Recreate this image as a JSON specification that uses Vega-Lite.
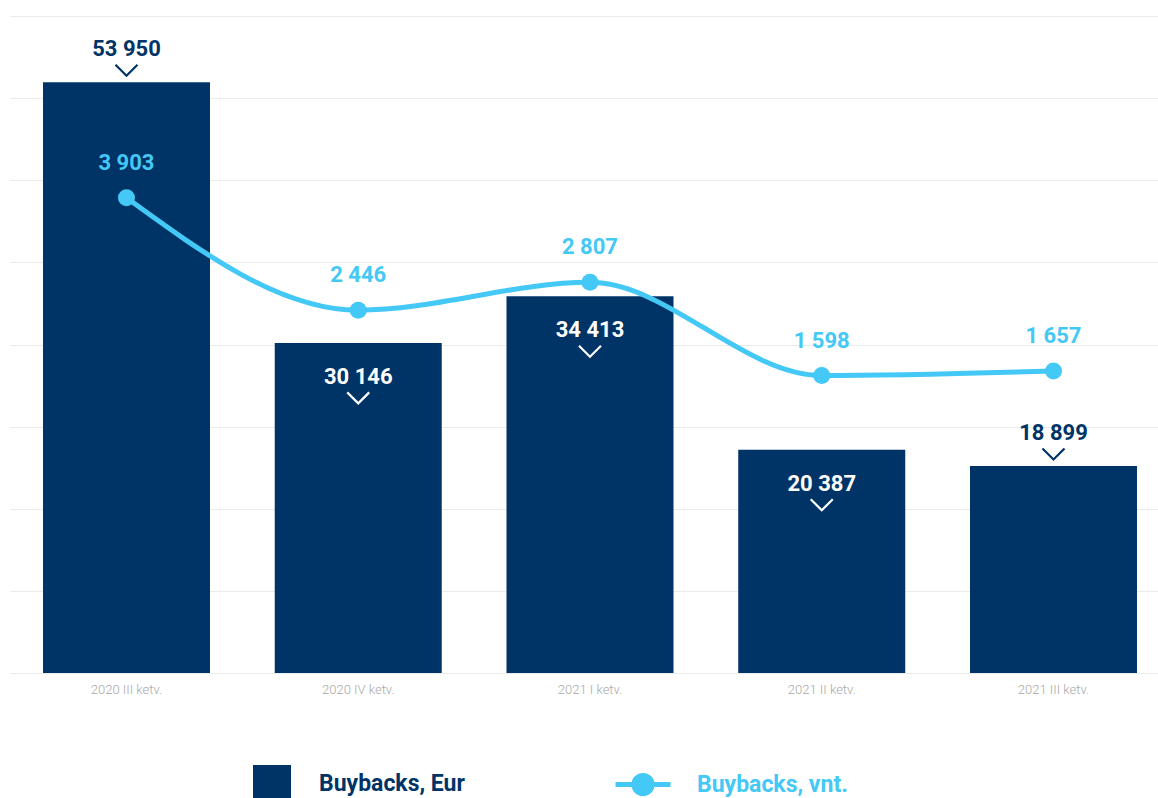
{
  "$schema": "https://vega.github.io/schema/vega-lite/v6.json",
  "width": 1148,
  "height": 657,
  "autosize": {"type": "none"},
  "padding": {"left": 10, "top": 16, "right": 0, "bottom": 125},
  "background": "white",
  "config": {
    "view": {"stroke": null},
    "font": "Roboto",
    "locale": {"number": {"decimal": ",", "thousands": " ", "grouping": [3], "currency": ["", " €"]}}
  },
  "data": {
    "values": [
      {"quarter": "2020 III ketv.", "eur": 53950, "vnt": 3903},
      {"quarter": "2020 IV ketv.", "eur": 30146, "vnt": 2446},
      {"quarter": "2021 I ketv.", "eur": 34413, "vnt": 2807},
      {"quarter": "2021 II ketv.", "eur": 20387, "vnt": 1598},
      {"quarter": "2021 III ketv.", "eur": 18899, "vnt": 1657}
    ]
  },
  "encoding": {
    "x": {
      "field": "quarter",
      "type": "nominal",
      "sort": null,
      "scale": {"paddingInner": 0.2794, "paddingOuter": 0.1165, "align": 0.611},
      "axis": {
        "title": null,
        "labelAngle": 0,
        "labelColor": "#a8a8a8",
        "labelFont": "Roboto",
        "labelFontSize": 13,
        "labelFontWeight": 300,
        "labelPadding": 10,
        "ticks": false,
        "domain": false
      }
    }
  },
  "layer": [
    {
      "encoding": {
        "y": {
          "field": "eur",
          "type": "quantitative",
          "scale": {"domain": [0, 60000], "nice": false, "zero": true},
          "axis": {
            "values": [0, 7500, 15000, 22500, 30000, 37500, 45000, 52500, 60000],
            "grid": true,
            "gridColor": "#ebebeb",
            "gridWidth": 1,
            "labels": false,
            "ticks": false,
            "domain": false,
            "title": null
          }
        }
      },
      "layer": [
        {
          "mark": {"type": "bar"},
          "encoding": {
            "color": {
              "datum": "Buybacks, Eur",
              "scale": {"range": ["#003466"]},
              "legend": {
                "orient": "none",
                "legendX": 243,
                "legendY": 749,
                "title": null,
                "padding": 0,
                "symbolType": "square",
                "symbolSize": 1444,
                "symbolStrokeWidth": 0,
                "labelFont": "Roboto",
                "labelFontWeight": "bold",
                "labelFontSize": 23,
                "labelColor": "#003466",
                "labelOffset": 28
              }
            }
          }
        },
        {
          "transform": [{"filter": "datum.quarter == '2020 III ketv.' || datum.quarter == '2021 III ketv.'"}],
          "mark": {"type": "text", "dy": -33, "baseline": "middle", "align": "center", "font": "Roboto", "fontWeight": "bold", "fontSize": 22, "color": "#003466"},
          "encoding": {"text": {"field": "eur", "type": "quantitative", "format": ",d"}}
        },
        {
          "transform": [{"filter": "datum.quarter == '2020 III ketv.' || datum.quarter == '2021 III ketv.'"}],
          "mark": {"type": "point", "shape": "M-1,-0.5L0,0.5L1,-0.5", "filled": false, "size": 484, "strokeWidth": 2.2, "color": "#003466", "opacity": 1, "yOffset": -12}
        },
        {
          "transform": [{"filter": "datum.quarter != '2020 III ketv.' && datum.quarter != '2021 III ketv.'"}],
          "mark": {"type": "text", "dy": 34, "baseline": "middle", "align": "center", "font": "Roboto", "fontWeight": "bold", "fontSize": 22, "color": "white"},
          "encoding": {"text": {"field": "eur", "type": "quantitative", "format": ",d"}}
        },
        {
          "transform": [{"filter": "datum.quarter != '2020 III ketv.' && datum.quarter != '2021 III ketv.'"}],
          "mark": {"type": "point", "shape": "M-1,-0.5L0,0.5L1,-0.5", "filled": false, "size": 484, "strokeWidth": 2.2, "color": "white", "opacity": 1, "yOffset": 55}
        }
      ]
    },
    {
      "encoding": {
        "y": {
          "field": "vnt",
          "type": "quantitative",
          "scale": {"domain": [-2259, 6261], "nice": false, "zero": false},
          "axis": null
        }
      },
      "layer": [
        {
          "mark": {"type": "line", "interpolate": "monotone", "strokeWidth": 5},
          "encoding": {
            "color": {
              "datum": "Buybacks, vnt.",
              "scale": {"range": ["#44c8f5"]},
              "legend": {
                "orient": "none",
                "legendX": 603,
                "legendY": 738.5,
                "title": null,
                "padding": 0,
                "symbolType": "M-1,0H1M0.33,0A0.33,0.33 0 1 1 -0.33,0A0.33,0.33 0 1 1 0.33,0Z",
                "symbolSize": 3025,
                "symbolStrokeWidth": 5,
                "symbolFillColor": "#44c8f5",
                "symbolStrokeColor": "#44c8f5",
                "labelFont": "Roboto",
                "labelFontWeight": "bold",
                "labelFontSize": 23,
                "labelColor": "#44c8f5",
                "labelOffset": 24,
                "encode": {"symbols": {"update": {"fill": {"value": "#44c8f5"}, "stroke": {"value": "#44c8f5"}}}}
              }
            }
          }
        },
        {
          "mark": {"type": "point", "filled": true, "size": 290, "color": "#44c8f5", "opacity": 1}
        },
        {
          "mark": {"type": "text", "dy": -35, "baseline": "middle", "align": "center", "font": "Roboto", "fontWeight": "bold", "fontSize": 22, "color": "#44c8f5"},
          "encoding": {"text": {"field": "vnt", "type": "quantitative", "format": ",d"}}
        }
      ]
    }
  ],
  "resolve": {"scale": {"y": "independent", "color": "independent"}, "legend": {"color": "independent"}}
}
